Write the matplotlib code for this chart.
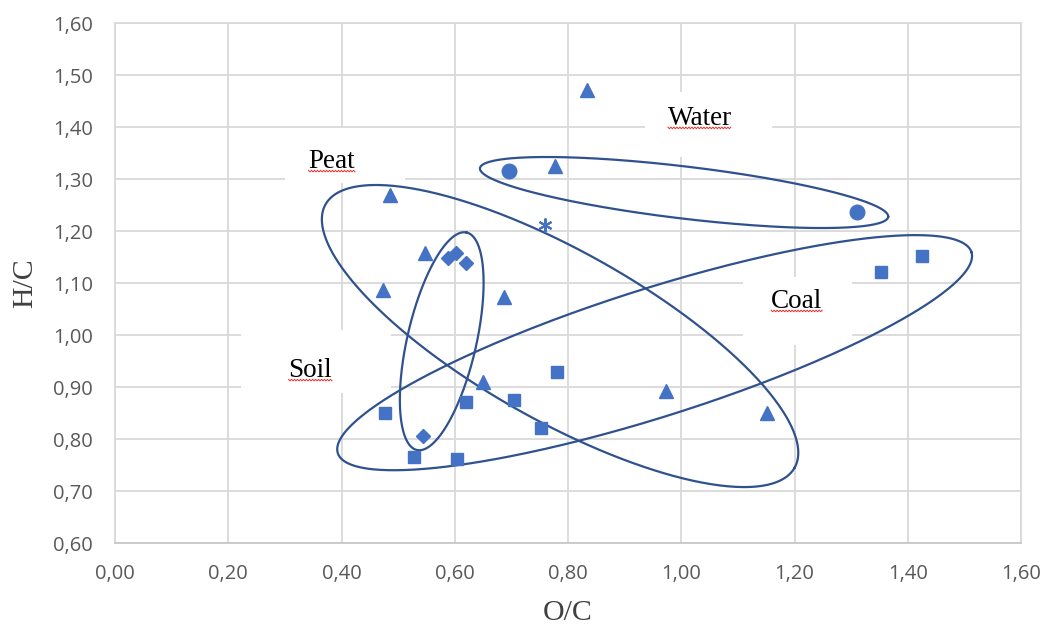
import numpy as np
import matplotlib
matplotlib.use("Agg")
import matplotlib.pyplot as plt
from matplotlib.patches import Rectangle
from matplotlib.lines import Line2D

# sample groups by marker
tri_x = [0.834, 0.777, 0.486, 0.547, 0.473, 0.687, 0.650, 0.973, 1.151]
tri_y = [1.471, 1.325, 1.269, 1.158, 1.087, 1.073, 0.910, 0.892, 0.850]
sq_x = [0.477, 0.528, 0.604, 0.620, 0.705, 0.752, 0.781, 1.353, 1.425]
sq_y = [0.850, 0.765, 0.762, 0.871, 0.875, 0.821, 0.929, 1.121, 1.152]
circ_x = [0.696, 1.311]
circ_y = [1.315, 1.237]
star_x = [0.760]
star_y = [1.212]
dia_x = [0.588, 0.602, 0.620, 0.544]
dia_y = [1.148, 1.158, 1.138, 0.806]

# group outlines: name, centre, semi-axes (in O/C units), tilt in degrees
groups = ["Peat", "Coal", "Soil", "Water"]
ell_cx = [0.786, 0.953, 0.577, 1.005]
ell_cy = [0.998, 0.966, 0.988, 1.274]
ell_a = [0.475, 0.587, 0.197, 0.363]
ell_b = [0.150, 0.113, 0.061, 0.046]
ell_ang = [-29.3, 17.6, 77.1, -6.8]

# group labels and their white boxes (x0, x1, y0, y1)
lab_x = [0.383, 1.204, 0.345, 1.033]
lab_y = [1.321, 1.052, 0.919, 1.404]
box = [(0.300, 0.512, 1.292, 1.398),
       (1.109, 1.302, 0.981, 1.112),
       (0.223, 0.487, 0.888, 1.010),
       (0.936, 1.160, 1.342, 1.467)]

xticks = np.arange(0, 1.61, 0.2)
yticks = np.arange(0.6, 1.61, 0.1)

blue = "#4472C4"
navy = "#2F528F"
grid_c = "#d9d9d9"
tick_c = "#595959"

fig = plt.figure(figsize=(10.49, 6.26), dpi=100)
ax = fig.add_axes([115 / 1049, 1 - 543 / 626, 906 / 1049, 520 / 626])
ax.set_xlim(0, 1.6)
ax.set_ylim(0.6, 1.6)
ax.set_xticks(xticks)
ax.set_yticks(yticks)
ax.set_xticklabels([f"{v:.2f}".replace(".", ",") for v in xticks])
ax.set_yticklabels([f"{v:.2f}".replace(".", ",") for v in yticks])
ax.tick_params(length=0, labelsize=14.5, labelcolor=tick_c)
ax.tick_params(axis="x", pad=15)
ax.tick_params(axis="y", pad=16)
for lbl in ax.get_xticklabels() + ax.get_yticklabels():
    lbl.set_fontfamily("Open Sans")
ax.set_axisbelow(True)
ax.grid(True, color=grid_c, lw=1.3)
for s in ax.spines.values():
    s.set_color(grid_c)
    s.set_linewidth(1.3)
ax.spines["bottom"].set_color("#c8c8c8")

# white label boxes sit over the grid
for x0, x1, y0, y1 in box:
    ax.add_patch(Rectangle((x0, y0), x1 - x0, y1 - y0, facecolor="white",
                           edgecolor="none", zorder=1))

# keep the outlines elliptical on screen despite unequal axis scales
fig.canvas.draw()
bb = ax.get_window_extent()
r = (bb.height / 1.0) / (bb.width / 1.6)
t = np.linspace(0, 2 * np.pi, 400)
for cx, cy, a, b, ang in zip(ell_cx, ell_cy, ell_a, ell_b, ell_ang):
    ph = np.radians(ang)
    ex = cx + a * np.cos(t) * np.cos(ph) - b * np.sin(t) * np.sin(ph)
    ey = cy + (a * np.cos(t) * np.sin(ph) + b * np.sin(t) * np.cos(ph)) / r
    ax.plot(ex, ey, color=navy, lw=1.6, zorder=2, clip_on=False)

ax.plot(tri_x, tri_y, "^", color=blue, ms=10.5, mec=blue, zorder=3)
ax.plot(sq_x, sq_y, "s", color=blue, ms=9.3, mec=blue, zorder=3)
ax.plot(circ_x, circ_y, "o", color=blue, ms=10.5, mec=blue, zorder=3)
ax.plot(dia_x, dia_y, "D", color=blue, ms=7.5, mec=blue, zorder=3)
ax.plot(star_x, star_y, marker=(6, 2, 0), ls="none", color=blue, ms=10,
        mew=1.5, zorder=3)

texts = []
for name, x, y in zip(groups, lab_x, lab_y):
    texts.append(ax.text(x, y, name, ha="center", va="baseline",
                         family="Liberation Serif", fontsize=19.5,
                         color="black", zorder=4))

fig.text(25 / 1049, 1 - 283 / 626, "H/C", rotation=90, ha="center",
         va="center", family="Liberation Serif", fontsize=21.5, color="#404040")
fig.text(568 / 1049, 1 - 613 / 626, "O/C", ha="center", va="center",
         family="Liberation Serif", fontsize=21.5, color="#404040")

# spell-check squiggles under the labels
fig.canvas.draw()
for txt, x, y in zip(texts, lab_x, lab_y):
    ext = txt.get_window_extent()
    base = ax.transData.transform((x, y))[1] - 3
    xs = np.arange(ext.x0, ext.x1, 1.5)
    ys = base + np.where(np.arange(len(xs)) % 2 == 0, 0.8, -0.8)
    fig.add_artist(Line2D(xs, ys, color="#e03030", lw=0.7,
                          transform=None))

fig.savefig("out.png", dpi=100)
